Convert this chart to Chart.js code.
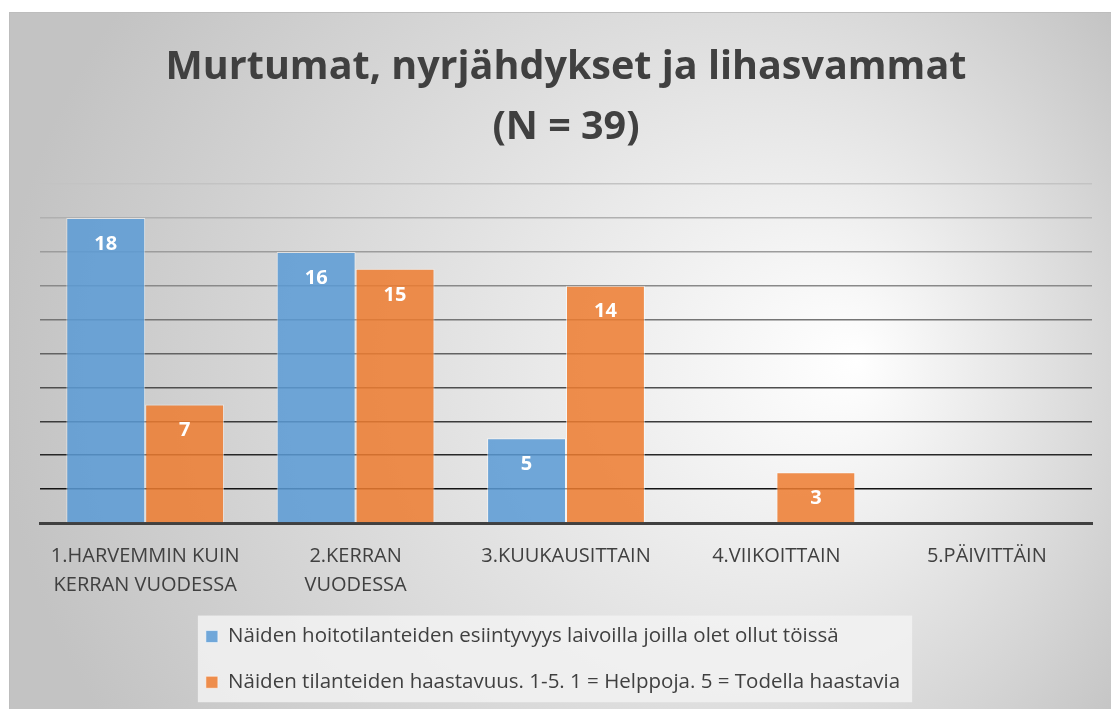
<!DOCTYPE html>
<html>
<head>
<meta charset="utf-8">
<script src="https://cdn.jsdelivr.net/npm/chart.js@4"></script>
<style>
  body { margin: 0; background: #ffffff; }
  #kotelo {
    position: absolute; left: 9px; top: 12px;
    width: 1101px; height: 696px;
    border-left: 1px solid #bdbdbd; border-top: 1px solid #bdbdbd;
  }
</style>
</head>
<body>
<div id="kotelo"><canvas id="kaavio"></canvas></div>
<script>
// 1. DATA
const luokat = [
  ["1.HARVEMMIN KUIN", "KERRAN VUODESSA"],
  ["2.KERRAN", "VUODESSA"],
  "3.KUUKAUSITTAIN",
  "4.VIIKOITTAIN",
  "5.PÄIVITTÄIN",
];
const esiintyvyys = [18, 16, 5, null, null];
const haastavuus = [7, 15, 14, 3, null];
const sarjaNimet = [
  "Näiden hoitotilanteiden esiintyvyys laivoilla joilla olet ollut töissä",
  "Näiden tilanteiden haastavuus. 1-5. 1 = Helppoja. 5 = Todella haastavia",
];
const otsikko = ["Murtumat, nyrjähdykset ja lihasvammat", "(N = 39)"];

const fontti = "'Open Sans', sans-serif";
const selitePadding = 25.2;
const seliteSiirto = 26; // selite hieman vasemmalle

// 2. PLUGINIT: tausta, selitteen laatikko, arvot palkkeihin
const taustaPlugin = {
  id: "tausta",
  afterUpdate(chart) {
    // selitteen rivit samanlevyisiksi -> rivit alkavat samasta kohdasta
    const L = chart.legend;
    if (L && L.lineWidths) {
      const m = Math.max(...L.lineWidths);
      chart.$seliteLeveys = m;
      L.lineWidths = L.lineWidths.map(() => m + seliteSiirto);
    }
  },
  beforeDraw(chart) {
    const { ctx, width, height } = chart;
    const g = ctx.createRadialGradient(width * 0.77, height * 0.5, 0, width * 0.55, height * 0.52, width * 0.56);
    g.addColorStop(0, "#ffffff");
    g.addColorStop(1, "#c3c3c3");
    ctx.save();
    ctx.fillStyle = g;
    ctx.fillRect(0, 0, width, height);

    // selitteen vaalea laatikko
    const L = chart.legend;
    if (L && chart.$seliteLeveys) {
      const m = chart.$seliteLeveys;
      const p = selitePadding;
      const fs = L.options.labels.font.size;
      const alku = (L.left + p + L.right - (m + seliteSiirto)) / 2;
      const vasen = alku - 8;
      const oikea = alku + m - p + 12;
      const yla = L.top + p + fs / 2 - 21;
      const ala = L.top + p + (fs + p) * (L.lineWidths.length - 1) + fs / 2 + 20;
      ctx.fillStyle = "rgba(242,242,242,0.85)";
      ctx.fillRect(vasen, yla, oikea - vasen, ala - yla);
    }
    ctx.restore();
  },
};

const arvoPlugin = {
  id: "arvot",
  afterDatasetsDraw(chart) {
    const { ctx } = chart;
    ctx.save();
    ctx.fillStyle = "#ffffff";
    ctx.font = "bold 20px " + fontti;
    ctx.textAlign = "center";
    ctx.textBaseline = "middle";
    chart.data.datasets.forEach((ds, i) => {
      chart.getDatasetMeta(i).data.forEach((bar, j) => {
        if (ds.data[j] == null) return;
        ctx.fillText(ds.data[j], bar.x, bar.y + 26);
      });
    });
    ctx.restore();
  },
};

// ruudukon viivat tummuvat alaspäin
function viivanVari(c) {
  const v = c.tick.value;
  if (v === 0) return "rgba(0,0,0,0)";
  const t = (v - 2) / 18;
  const s = Math.round(20 + t * (195 - 20));
  return `rgb(${s},${s},${s})`;
}

// 3. KAAVIO
new Chart(document.getElementById("kaavio"), {
  type: "bar",
  data: {
    labels: luokat,
    datasets: [
      {
        label: sarjaNimet[0],
        data: esiintyvyys,
        backgroundColor: "rgba(91,155,213,0.86)",
        borderColor: "rgba(255,255,255,0.55)",
        borderWidth: 1,
      },
      {
        label: sarjaNimet[1],
        data: haastavuus,
        backgroundColor: "rgba(237,125,49,0.86)",
        borderColor: "rgba(255,255,255,0.55)",
        borderWidth: 1,
      },
    ],
  },
  options: {
    responsive: true,
    maintainAspectRatio: false,
    animation: false,
    categoryPercentage: 0.75,
    barPercentage: 1.0,
    layout: { padding: { left: 30, right: 19, top: 25, bottom: 6.5 } },
    scales: {
      y: {
        min: 0,
        max: 20,
        ticks: { display: false, stepSize: 2 },
        border: { display: false },
        grid: { color: viivanVari, lineWidth: 1.6, drawTicks: false },
      },
      x: {
        grid: { display: false, drawTicks: false },
        border: { display: true, color: "#404040", width: 3 },
        ticks: {
          color: "#404040",
          font: { family: fontti, size: 20, lineHeight: 1.45 },
          padding: 18.5,
          maxRotation: 0,
          autoSkip: false,
        },
        afterFit(scale) {
          scale.height -= 17;
        },
      },
    },
    plugins: {
      title: {
        display: true,
        text: otsikko,
        color: "#404040",
        font: { family: fontti, size: 39.5, weight: "bold", lineHeight: 1.52 },
        padding: { top: 0, bottom: 26 },
      },
      legend: {
        position: "bottom",
        labels: {
          color: "#404040",
          font: { family: fontti, size: 20.5 },
          boxWidth: 12,
          boxHeight: 12,
          padding: selitePadding,
        },
      },
      tooltip: { enabled: false },
    },
  },
  plugins: [taustaPlugin, arvoPlugin],
});
</script>
</body>
</html>
